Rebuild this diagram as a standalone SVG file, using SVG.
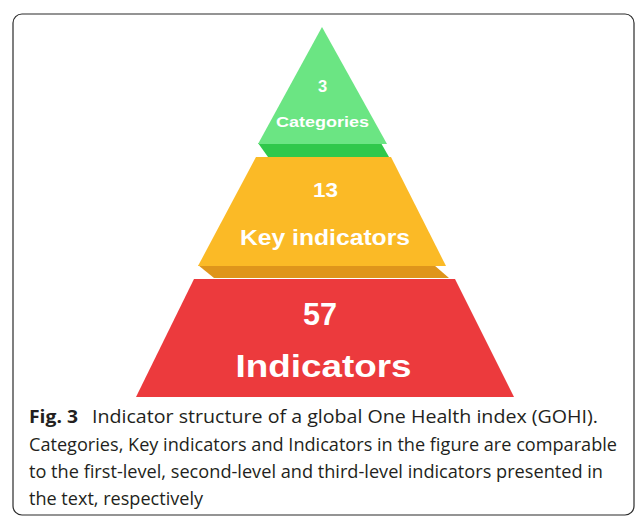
<svg xmlns="http://www.w3.org/2000/svg" width="635" height="518" viewBox="0 0 635 518">
<style>
.lbl{font-family:"Liberation Sans",Arial,sans-serif;font-weight:bold;fill:#ffffff;text-anchor:middle}
.cap{font-family:"Open Sans","Noto Sans",sans-serif;font-size:18.5px;fill:#231f20}
</style>
<rect x="0" y="0" width="635" height="518" fill="#ffffff"/>
<rect x="13" y="14" width="621" height="501" rx="9" ry="9" fill="none" stroke="#2b2b2b" stroke-width="1.2"/>
<g id="level3">
<polygon points="194,279 455,279 514,397 136,397" fill="#ec3a3d"/>
<text class="lbl" x="320" y="325" font-size="32" textLength="34" lengthAdjust="spacingAndGlyphs">57</text>
<text class="lbl" x="323.5" y="377" font-size="31" textLength="176" lengthAdjust="spacingAndGlyphs">Indicators</text>
</g>
<g id="level2">
<polygon points="198,265 434,265 449,278 214,278" fill="#df951b"/>
<polygon points="256,157 391,157 446,266 198,266" fill="#fbba26"/>
<text class="lbl" x="325.5" y="197" font-size="21" textLength="25" lengthAdjust="spacingAndGlyphs">13</text>
<text class="lbl" x="325" y="245" font-size="22" textLength="170" lengthAdjust="spacingAndGlyphs">Key indicators</text>
</g>
<g id="level1">
<polygon points="258,143 381,143 389,157 268,157" fill="#30c84b"/>
<polygon points="322,27 258,144 387,144" fill="#6be583"/>
<text class="lbl" x="322.5" y="92" font-size="16.5">3</text>
<text class="lbl" x="322.5" y="127" font-size="15.5" textLength="93" lengthAdjust="spacingAndGlyphs">Categories</text>
</g>
<g id="connectors"></g>
<g id="caption">
<text class="cap" x="29" y="423" font-weight="bold" textLength="49" lengthAdjust="spacingAndGlyphs">Fig. 3</text>
<text class="cap" x="92" y="423" textLength="506" lengthAdjust="spacingAndGlyphs">Indicator structure of a global One Health index (GOHI).</text>
<text class="cap" x="29" y="451" textLength="588" lengthAdjust="spacingAndGlyphs">Categories, Key indicators and Indicators in the figure are comparable</text>
<text class="cap" x="29" y="478" textLength="574" lengthAdjust="spacingAndGlyphs">to the first-level, second-level and third-level indicators presented in</text>
<text class="cap" x="29" y="505" textLength="174" lengthAdjust="spacingAndGlyphs">the text, respectively</text>
</g>
</svg>
